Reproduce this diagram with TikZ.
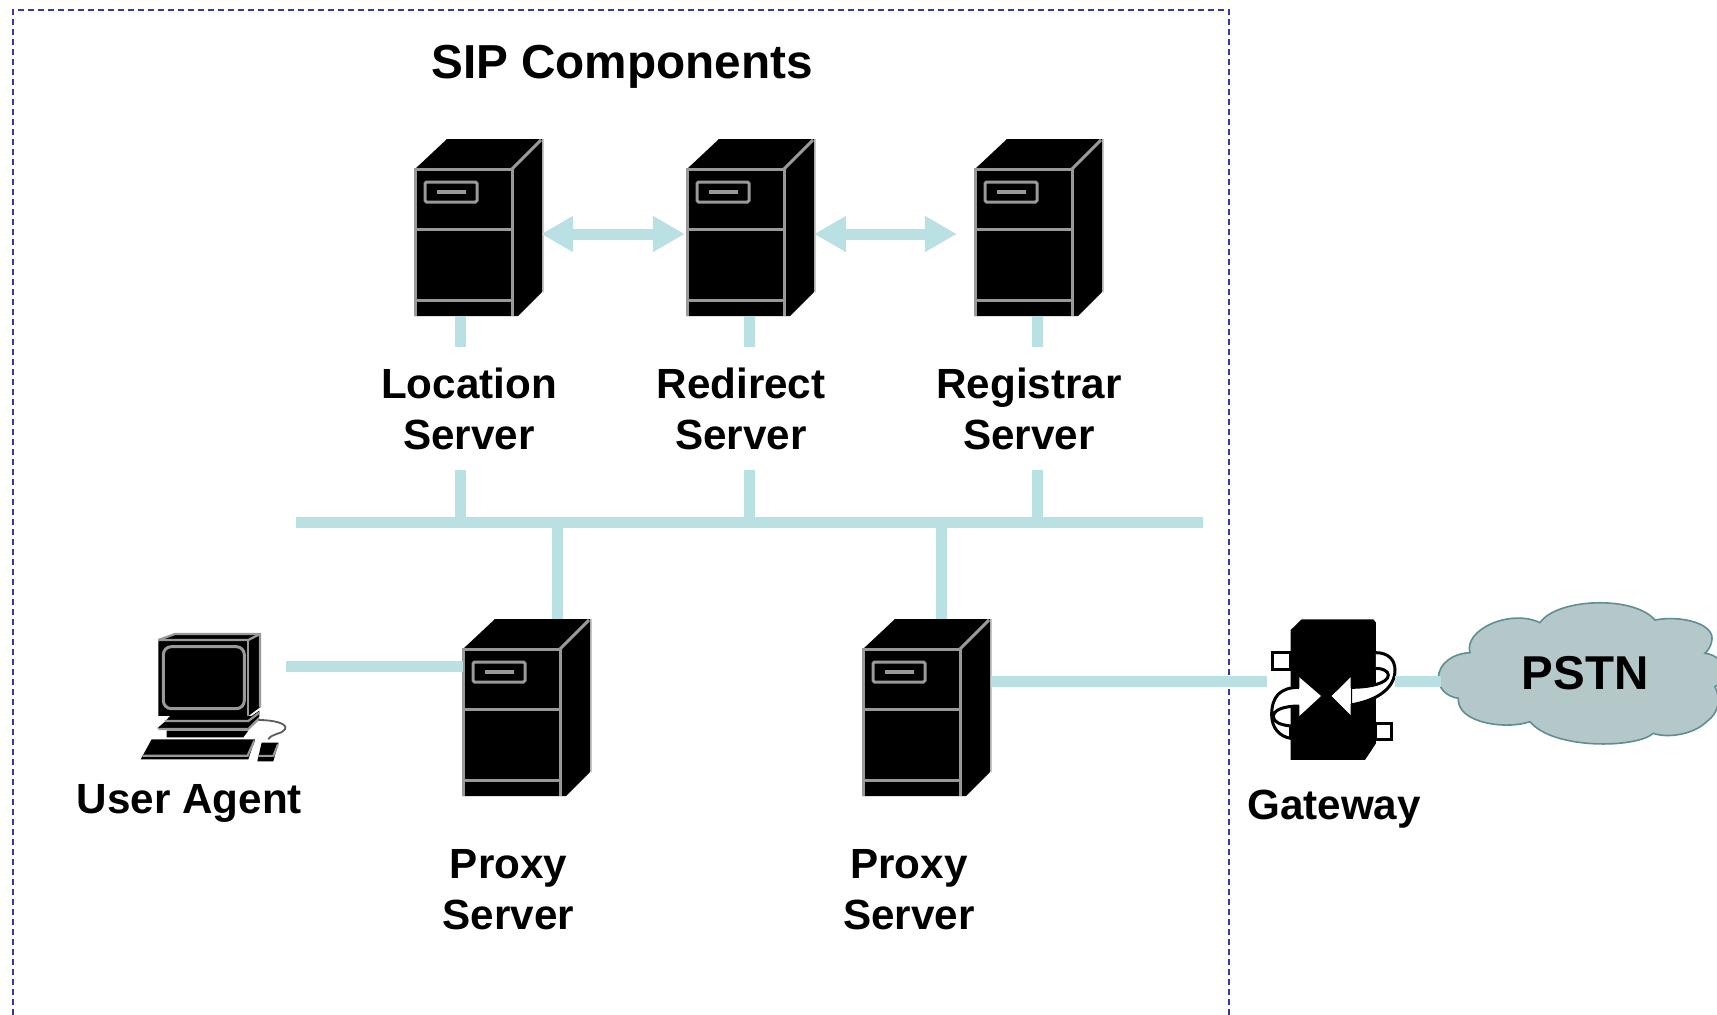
\documentclass[tikz,border=0pt]{standalone}
\usepackage{fontspec}
\setmainfont{Liberation Sans}
\usetikzlibrary{arrows.meta,calc}
\definecolor{linkc}{HTML}{B9E0E2}
\definecolor{framec}{HTML}{3636B0}
\definecolor{cloudf}{HTML}{B4C7C9}
\definecolor{cloudd}{HTML}{5F8F93}
\definecolor{edgec}{HTML}{999999}
\tikzset{
  link/.style={draw=linkc,line width=11pt},
  dbl/.style={draw=linkc,line width=11pt,{Triangle[length=32pt,width=34pt]}-{Triangle[length=32pt,width=34pt]}},
  frameline/.style={draw=framec,line width=1.6pt,dash pattern=on 6pt off 4pt},
  lab/.style={font=\bfseries\fontsize{42.2}{51}\selectfont,align=center,inner sep=0pt},
  stacklab/.style={lab,minimum height=123pt},
  srvbox/.style={minimum width=128pt,minimum height=177pt,inner sep=0pt},
  edgeline/.style={draw=edgec,line width=3pt},
  gwband/.style={draw=black,fill=white,line width=3pt},
}
\newcommand{\srvicon}[3]{%
  \node[srvbox] (#1) at (#2+64,#3+88.5) {};
  \begin{scope}[shift={(#2,#3)}]
    \draw[draw=black!22,line width=2.5pt] (128,0) -- (128,153);
    \fill[black] (0,30) -- (32,0) -- (127,0) -- (127,153) -- (103,177) -- (0,177) -- cycle;
    \draw[edgeline] (0,177) -- (0,30) -- (97,30) -- (97,177);
    \draw[edgeline] (97,30) -- (126,1);
    \draw[edgeline] (0,90) -- (97,90);
    \draw[edgeline] (0,161) -- (97,161);
    \draw[edgeline,rounded corners=1.5pt] (10,43) rectangle (62,63);
    \draw[edgeline,line width=3.5pt] (22,53) -- (51,53);
  \end{scope}
}
\begin{document}
\begin{tikzpicture}[x=1pt,y=-1pt]
\clip (0,0) rectangle (1717,1015);
\useasboundingbox (0,0) rectangle (1717,1015);
\fill[white] (0,0) rectangle (1717,1015);

% frame, open at the bottom edge
\coordinate (fa) at (13,1015);
\coordinate (fb) at (13,10);
\coordinate (fc) at (1229,10);
\coordinate (fd) at (1229,1015);
\draw[frameline] (fa) -- (fb) -- (fc) -- (fd);

\node[font=\bfseries\fontsize{47.7}{56}\selectfont,inner sep=0pt] (title) at (622,66.5) {SIP Components};

% servers
\srvicon{s1}{415}{139}
\srvicon{s2}{687}{139}
\srvicon{s3}{975}{139}
\srvicon{p1}{463}{619}
\srvicon{p2}{863}{619}

% labels
\node[stacklab] (labL) at (469,408.5) {Location\\Server};
\node[stacklab] (labD) at (741,408.5) {Redirect\\Server};
\node[stacklab] (labG) at (1029,408.5) {Registrar\\Server};
\node[lab] (labP1) at (508.5,889.5) {Proxy\\Server};
\node[lab] (labP2) at (909,889.5) {Proxy\\Server};
\node[lab] (labU) at (189.5,803) {User Agent};
\node[lab] (labW) at (1334,809.5) {Gateway};

% bus and taps
\coordinate (busL) at (296,522);
\coordinate (busR) at (1203,522);
\coordinate (tapL) at (460,522);
\coordinate (tapD) at (749,522);
\coordinate (tapG) at (1037,522);
\coordinate (tapP1) at (557,522);
\coordinate (tapP2) at (941,522);
\draw[link] (busL) -- (busR);
\draw[link] (tapL |- s1.south) -- (tapL |- labL.north);
\draw[link] (tapD |- s2.south) -- (tapD |- labD.north);
\draw[link] (tapG |- s3.south) -- (tapG |- labG.north);
\draw[link] (tapL |- labL.south) -- (tapL);
\draw[link] (tapD |- labD.south) -- (tapD);
\draw[link] (tapG |- labG.south) -- (tapG);
\draw[link] (tapP1) -- (tapP1 |- p1.north);
\draw[link] (tapP2) -- (tapP2 |- p2.north);

% arrows between servers
\draw[dbl] ([xshift=-2pt,yshift=-6.5pt]s1.east) -- ([xshift=-2pt,yshift=-6.5pt]s2.west);
\draw[dbl,shorten >=18pt,shorten <=-1pt] ([yshift=-6.5pt]s2.east) -- ([yshift=-6.5pt]s3.west);

% user agent computer
\node[minimum width=146pt,minimum height=135pt,inner sep=0pt] (pc) at (213,697.5) {};
\begin{scope}[shift={(120,620)},x=0.3333pt,y=-0.3333pt]
  \fill[black] (115,60) -- (165,42) -- (420,42) -- (420,262) -- (385,288) -- (115,288) -- cycle;
  \draw[edgec,line width=2.2pt] (115,60) -- (165,42) -- (420,42) -- (420,262);
  \draw[edgec,line width=2.2pt] (115,60) -- (385,60) -- (420,42);
  \draw[edgec,line width=2.2pt] (385,60) -- (385,288);
  \draw[edgec,line width=3pt,rounded corners=8pt] (130,80) rectangle (373,266);
  \fill[black] (150,288) -- (395,288) -- (418,272) -- (418,290) -- (385,325) -- (112,325) -- (135,305) -- cycle;
  \draw[edgec,line width=2.2pt] (135,303) -- (385,303) -- (418,278);
  \draw[edgec,line width=2.2pt] (115,327) -- (385,327) -- (418,295);
  \fill[black] (140,332) -- (385,332) -- (370,352) -- (140,352) -- cycle;
  \fill[black] (95,358) -- (405,358) -- (385,418) -- (62,418) -- cycle;
  \draw[edgec,line width=2.2pt] (68,407) -- (383,407) -- (403,362);
  \fill[black] (425,368) -- (476,368) -- (460,424) -- (412,424) -- cycle;
  \draw[edgec,line width=2pt] (414,408) -- (460,408) -- (474,372);
  \draw[edgec!60!black,line width=1.8pt] (415,300) .. controls (460,300) and (505,310) .. (495,328) .. controls (488,342) and (455,340) .. (445,358);
\end{scope}
\coordinate (uaLink) at ([yshift=41.5pt]p1.west);
\draw[link] (uaLink -| pc.east) -- (uaLink);

% gateway
\node[minimum width=128pt,minimum height=141pt,inner sep=0pt] (gw) at (1331,689.5) {};
\begin{scope}[shift={(1240,600)},x=0.3333pt,y=-0.3333pt]
  \draw[black,line width=3pt,fill=white] (97,157) rectangle (152,207);
  \draw[black,line width=3pt,fill=white] (408,372) rectangle (455,420);
  \fill[black] (185,58) -- (400,58) -- (408,68) -- (408,430) -- (375,480) -- (152,480) -- (152,90) -- cycle;
  % left loop band
  \draw[gwband] (178,262) .. controls (120,262) and (95,290) .. (95,345)
     .. controls (95,385) and (120,410) .. (152,415)
     -- (152,378) .. controls (120,375) and (100,365) .. (100,350)
     .. controls (100,330) and (130,318) .. (178,318);
  % right loop band
  \draw[gwband] (408,158) .. controls (445,158) and (465,180) .. (465,210)
     .. controls (465,260) and (420,300) .. (332,315)
     -- (332,262) .. controls (390,262) and (445,250) .. (445,225)
     .. controls (445,212) and (425,205) .. (408,205);
  \fill[white] (243,288) -- (178,232) -- (178,348) -- cycle;
  \fill[white] (275,288) -- (332,232) -- (332,345) -- cycle;
  \fill[white] (176,264) rectangle (180,316);
  \fill[white] (330,264) rectangle (334,313);
\end{scope}

% PSTN cloud
\begin{scope}[shift={(1240,600)},x=0.3333pt,y=-0.3333pt]
  \draw[cloudd,fill=cloudf,line width=1.6pt]
    (595,235) .. controls (595,190) and (640,160) .. (690,158)
    .. controls (670,90) and (810,25) .. (900,68)
    .. controls (950,-5) and (1180,-15) .. (1245,60)
    .. controls (1320,45) and (1430,70) .. (1415,125)
    .. controls (1412,140) and (1405,150) .. (1395,160)
    .. controls (1450,165) and (1480,230) .. (1425,260)
    .. controls (1445,300) and (1435,340) .. (1400,365)
    .. controls (1360,405) and (1280,415) .. (1240,400)
    .. controls (1190,445) and (940,450) .. (870,365)
    .. controls (800,390) and (650,370) .. (655,295)
    .. controls (620,290) and (595,265) .. (595,235) -- cycle;
\end{scope}
\node[minimum width=288pt,minimum height=60pt,inner sep=0pt,font=\bfseries\fontsize{47.5}{56}\selectfont] (pstn) at (1585,673) {PSTN};
\coordinate (gwLink) at ([yshift=8.5pt]gw.west);
\draw[link] (p2.east |- gwLink) -- (gwLink);
\coordinate (gwLinkE) at ([yshift=8.5pt]gw.east);
\draw[link] (gwLinkE) -- (gwLinkE -| pstn.west);
\end{tikzpicture}
\end{document}
